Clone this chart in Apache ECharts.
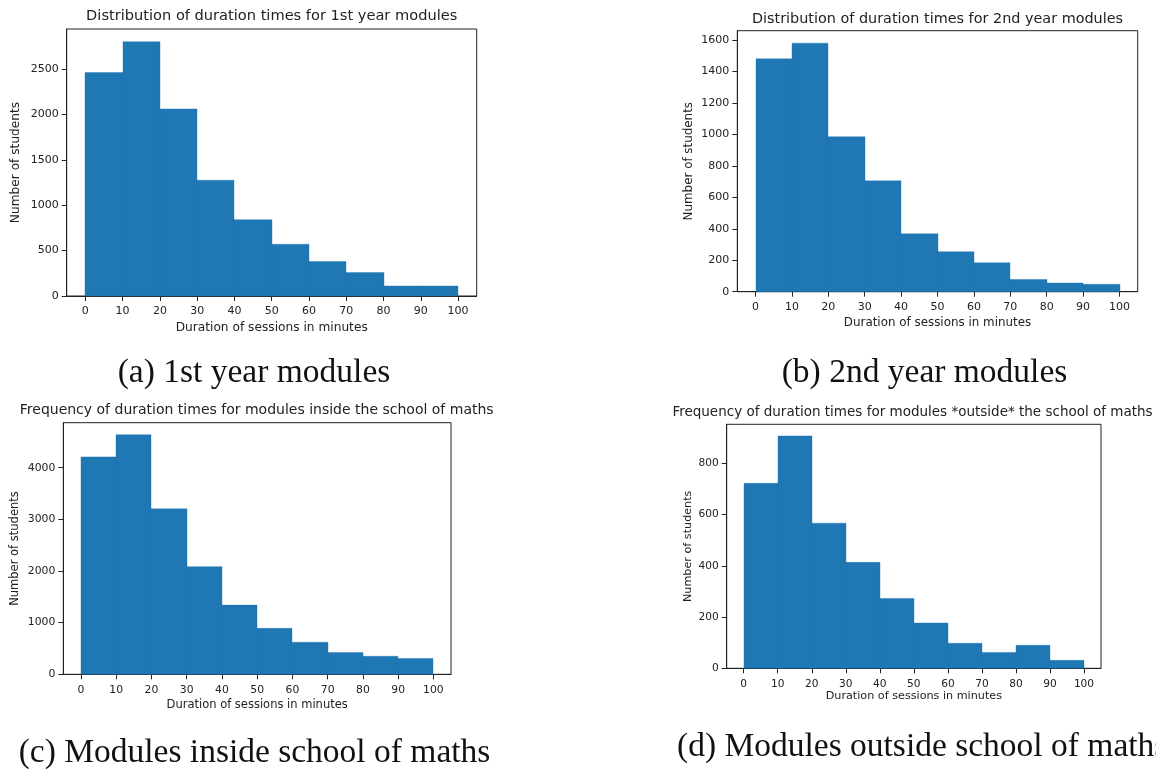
<!DOCTYPE html>
<html>
<head>
<meta charset="utf-8">
<script src="https://cdn.jsdelivr.net/npm/echarts@6/dist/echarts.min.js"></script>
<style>
html,body{margin:0;padding:0;background:#fff;}
#c{width:1156px;height:769px;}
</style>
</head>
<body>
<div id="c"></div>
<script>
// ---- data ----
const binEdges = [0, 10, 20, 30, 40, 50, 60, 70, 80, 90, 100];
const xTicks = [0, 10, 20, 30, 40, 50, 60, 70, 80, 90, 100];

const countsFirstYear  = [2460, 2800, 2060, 1275, 840, 570, 380, 258, 110, 110];
const countsSecondYear = [1480, 1580, 985, 705, 368, 254, 184, 78, 55, 47];
const countsInside     = [4210, 4640, 3205, 2085, 1340, 890, 620, 420, 350, 305];
const countsOutside    = [723, 908, 567, 414, 273, 177, 98, 62, 90, 31];

const yTicksFirstYear  = [0, 500, 1000, 1500, 2000, 2500];
const yTicksSecondYear = [0, 200, 400, 600, 800, 1000, 1200, 1400, 1600];
const yTicksInside     = [0, 1000, 2000, 3000, 4000];
const yTicksOutside    = [0, 200, 400, 600, 800];

const titles = [
  'Distribution of duration times for 1st year modules',
  'Distribution of duration times for 2nd year modules',
  'Frequency of duration times for modules inside the school of maths',
  'Frequency of duration times for modules *outside* the school of maths'
];
const captions = [
  '(a) 1st year modules',
  '(b) 2nd year modules',
  '(c) Modules inside school of maths',
  '(d) Modules outside school of maths'
];
const xName = 'Duration of sessions in minutes';
const yName = 'Number of students';

// ---- layout / style ----
const BAR = '#1f77b4';
const INK = '#222';
const SANS = 'DejaVu Sans';
const SERIF = 'Liberation Serif';

const panels = [
  {counts: countsFirstYear,  yTicks: yTicksFirstYear,  grid: {left: 66.7, top: 29,    width: 410,   height: 267},   xGap: 26, yGap: 45, fs: 11, ns: 12.2, ts: 14.6,
   title: {x: 271.7, y: 16.7}, caption: {x: 254, y: 372, align: 'center'}},
  {counts: countsSecondYear, yTicks: yTicksSecondYear, grid: {left: 737.3, top: 30.7, width: 400.4, height: 261},   xGap: 25, yGap: 42, fs: 11, ns: 11.9, ts: 14.4,
   title: {x: 937.5, y: 19}, caption: {x: 924.5, y: 372, align: 'center'}},
  {counts: countsInside,     yTicks: yTicksInside,     grid: {left: 63.3, top: 422.7,  width: 387.7, height: 251.6}, xGap: 24.5, yGap: 42, fs: 10.8, ns: 11.5, ts: 14,
   title: {x: 256.7, y: 410.7}, caption: {x: 254.5, y: 752, align: 'center'}},
  {counts: countsOutside,    yTicks: yTicksOutside,    grid: {left: 726.7, top: 424.3, width: 374.3, height: 244},   xGap: 22.5, yGap: 33, fs: 10.6, ns: 11.2, ts: 13.5,
   title: {x: 912.5, y: 412.3}, caption: {x: 677, y: 746, align: 'left'}}
];

const grids = [], xAxes = [], yAxes = [], series = [], graphics = [];
const plain = v => String(v);

panels.forEach((p, i) => {
  const ymax = Math.max(...p.counts) * 1.05;
  grids.push(Object.assign({show: true, borderColor: INK, borderWidth: 1, backgroundColor: 'transparent'}, p.grid));
  xAxes.push({
    type: 'value', gridIndex: i, min: -5, max: 105,
    name: xName, nameLocation: 'middle', nameGap: p.xGap,
    nameTextStyle: {fontFamily: SANS, fontSize: p.ns, color: INK},
    axisLine: {show: true, onZero: false, lineStyle: {color: INK, width: 1}},
    axisTick: {show: true, length: 5, lineStyle: {color: INK}, customValues: xTicks},
    axisLabel: {show: true, margin: 10, fontFamily: SANS, fontSize: p.fs, color: INK, customValues: xTicks, formatter: plain},
    splitLine: {show: false}
  });
  yAxes.push({
    type: 'value', gridIndex: i, min: 0, max: ymax,
    name: yName, nameLocation: 'middle', nameGap: p.yGap, nameRotate: 90,
    nameTextStyle: {fontFamily: SANS, fontSize: p.ns, color: INK},
    axisLine: {show: true, onZero: false, lineStyle: {color: INK, width: 1}},
    axisTick: {show: true, length: 5, lineStyle: {color: INK}, customValues: p.yTicks},
    axisLabel: {show: true, margin: 8, fontFamily: SANS, fontSize: p.fs, color: INK, customValues: p.yTicks, formatter: plain},
    splitLine: {show: false}
  });
  const data = p.counts.map((v, k) => [binEdges[k], binEdges[k + 1], v]);
  series.push({
    type: 'custom', xAxisIndex: i, yAxisIndex: i,
    encode: {x: [0, 1], y: 2},
    data: data,
    renderItem: function (params, api) {
      const a = api.coord([api.value(0), api.value(2)]);
      const b = api.coord([api.value(1), 0]);
      const x0 = Math.round(a[0]), x1 = Math.round(b[0]);
      return {type: 'rect', shape: {x: x0, y: a[1], width: x1 - x0, height: b[1] - a[1]},
              style: {fill: BAR, stroke: BAR, lineWidth: 0.4}};
    },
    silent: true, animation: false
  });
  graphics.push({
    type: 'text', x: p.title.x, y: p.title.y,
    style: {text: titles[i], font: p.ts + 'px "' + SANS + '"', fill: INK, textAlign: 'center', textVerticalAlign: 'middle'}
  });
  graphics.push({
    type: 'text', x: p.caption.x, y: p.caption.y + 1,
    style: {text: captions[i], font: '33.5px "' + SERIF + '"', fill: '#111', textAlign: p.caption.align, textVerticalAlign: 'middle'}
  });
});

const chart = echarts.init(document.getElementById('c'), null, {renderer: 'canvas'});
chart.setOption({
  animation: false,
  backgroundColor: '#fff',
  grid: grids, xAxis: xAxes, yAxis: yAxes, series: series,
  graphic: graphics
});
</script>
</body>
</html>
